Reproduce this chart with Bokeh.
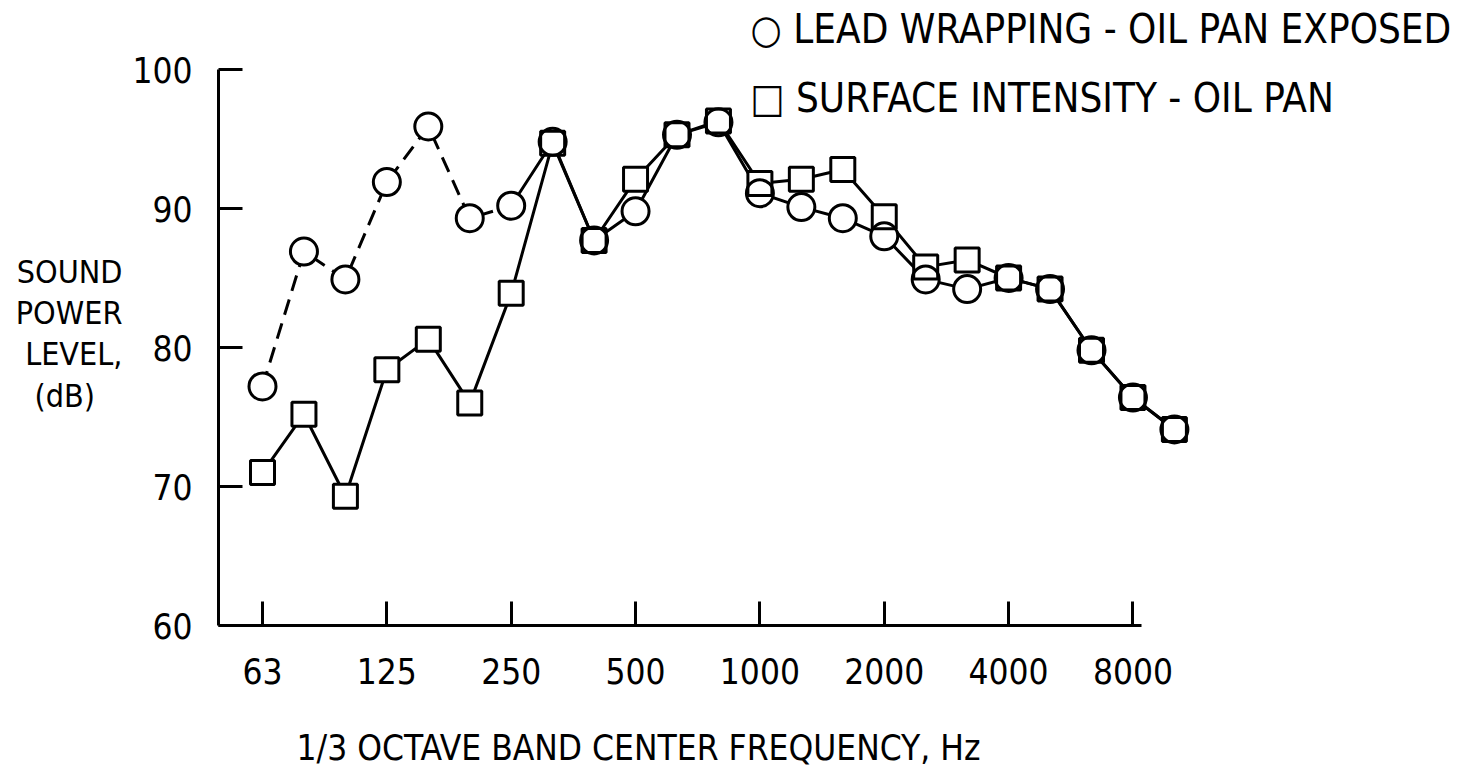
from bokeh.plotting import figure
from bokeh.models import Range1d, FixedTicker, Label, Title
from bokeh.embed import file_html
from bokeh.resources import INLINE

# ---- data ----
bands = ["63", "80", "100", "125", "160", "200", "250", "315", "400", "500", "630", "800",
         "1000", "1250", "1600", "2000", "2500", "3150", "4000", "5000", "6300", "8000", "10000"]
lead_wrapping = [77.2, 86.9, 84.9, 91.9, 95.9, 89.3, 90.2, 94.8, 87.7, 89.8, 95.3, 96.2,
                 91.1, 90.1, 89.3, 88.0, 84.9, 84.2, 85.0, 84.2, 79.8, 76.4, 74.1]
surface_intensity = [71.0, 75.2, 69.3, 78.4, 80.6, 76.0, 83.9, 94.7, 87.7, 92.1, 95.3, 96.3,
                     91.8, 92.1, 92.8, 89.4, 85.8, 86.3, 85.0, 84.2, 79.8, 76.4, 74.1]
x_tick_labels = ["63", "125", "250", "500", "1000", "2000", "4000", "8000"]
y_ticks = [60, 70, 80, 90, 100]
dashed_until = "250"   # lead-wrapping curve is dashed up to this band

# ---- layout (pixels) ----
W, H = 1460, 774
FL, FB = 218, 625
X0, XSTEP = 262, 41.45
YPX = (625 - 69) / 40.0

def dx(px):
    return (px - X0) / XSTEP

def dy(py):
    return 60 + (FB - py) / YPX

FONT = "DejaVu Sans Condensed, Liberation Sans, sans-serif"

xi = list(range(len(bands)))
tick_pos = [bands.index(b) for b in x_tick_labels]
k = bands.index(dashed_until)

p = figure(width=W, height=H, output_backend="svg", toolbar_location=None,
           x_range=Range1d(dx(FL), dx(W)), y_range=Range1d(60, dy(0)),
           min_border_left=FL, min_border_right=0, min_border_top=0,
           min_border_bottom=H - FB)
p.outline_line_color = None
p.xgrid.visible = False
p.ygrid.visible = False
p.background_fill_color = "white"

for ax in (p.xaxis[0], p.yaxis[0]):
    ax.axis_line_width = 3
    ax.axis_line_color = "black"
    ax.major_tick_line_width = 3
    ax.major_tick_line_color = "black"
    ax.major_tick_in = 24
    ax.major_tick_out = 0
    ax.minor_tick_line_color = None
    ax.major_label_text_font = FONT
    ax.major_label_text_font_size = "35px"
    ax.major_label_text_color = "black"

p.yaxis[0].ticker = FixedTicker(ticks=y_ticks)
p.yaxis[0].bounds = (y_ticks[0], y_ticks[-1])
p.yaxis[0].major_label_standoff = 26
p.yaxis[0].axis_label = "\nSOUND\nPOWER\nLEVEL,\n(dB)   "
p.yaxis[0].axis_label_orientation = "horizontal"
p.yaxis[0].axis_label_text_align = "center"
p.yaxis[0].axis_label_text_font = FONT
p.yaxis[0].axis_label_text_font_size = "32px"
p.yaxis[0].axis_label_text_line_height = 1.09
p.yaxis[0].axis_label_text_font_style = "normal"
p.yaxis[0].axis_label_text_color = "black"
p.yaxis[0].axis_label_standoff = 7

p.xaxis[0].ticker = FixedTicker(ticks=tick_pos)
p.xaxis[0].major_label_overrides = {t: l for t, l in zip(tick_pos, x_tick_labels)}
p.xaxis[0].bounds = (dx(FL), tick_pos[-1] + 0.2)
p.xaxis[0].major_label_standoff = 32
# spacer below the tick labels so the axis title sits lower
p.xaxis[0].axis_label = " "
p.xaxis[0].axis_label_text_font_size = "10px"
p.xaxis[0].axis_label_standoff = 25

# lines
p.line(xi[:k + 1], lead_wrapping[:k + 1], line_color="black", line_width=3, line_dash="16 9")
p.line(xi[k:], lead_wrapping[k:], line_color="black", line_width=3)
p.line(xi, surface_intensity, line_color="black", line_width=3)

# marker fills then outlines
p.scatter(xi, surface_intensity, marker="square", size=24, fill_color="white", line_color=None)
p.scatter(xi, lead_wrapping, marker="circle", size=27, fill_color="white", line_color=None)
p.scatter(xi, surface_intensity, marker="square", size=24, fill_color=None, line_color="black", line_width=3)
p.scatter(xi, lead_wrapping, marker="circle", size=27, fill_color=None, line_color="black", line_width=3)

# legend texts (inside frame)
def lab(x, y, t, size):
    p.add_layout(Label(x=dx(x), y=dy(y), text=t, text_font=FONT, text_font_size=size,
                       text_align="left", text_baseline="middle", text_color="black"))

lab(750, 28, "\u25CB LEAD WRAPPING - OIL PAN EXPOSED", "40px")
lab(750, 97, "\u25A1 SURFACE INTENSITY - OIL PAN", "40px")

# x label
p.add_layout(Title(text="1/3 OCTAVE BAND CENTER FREQUENCY, Hz", align="left", offset=300 - FL - 4,
                   standoff=0, text_line_height=1.0, text_font=FONT, text_font_size="35px",
                   text_font_style="normal", text_color="black"), "below")

open("out.html", "w").write(file_html(p, INLINE))
